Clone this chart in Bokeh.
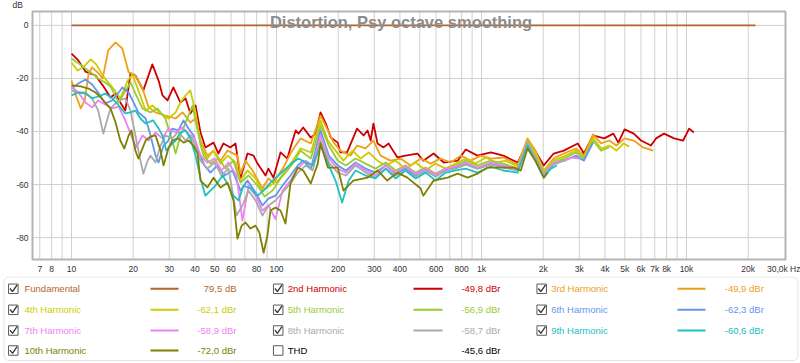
from bokeh.plotting import figure
from bokeh.models import Range1d, FixedTicker, ColumnDataSource, BoxAnnotation
from bokeh.layouts import column
from bokeh.embed import file_html
from bokeh.resources import INLINE
from bokeh.core.properties import value

FONT = "Liberation Sans"

# ---------------- data ----------------
fund_freq = [10, 21700]
fund_db = [0.0, 0.0]

h2_freq = [10.0, 10.8, 11.7, 13.1, 14.2, 15.5, 16.4, 17.3, 18.3, 19.4, 20.5, 22.4, 24.8, 26.6, 27.8, 29.4, 31.4, 34.0, 36.0, 38.0,
           40.3, 42.6, 45.0, 49.3, 52.1, 55.1, 59.6, 63.1, 66.7, 72.2, 77.3, 80.8, 88.4, 91.3, 96.6, 104.6, 113, 117, 124, 128,
           135, 147, 155, 164, 174, 184, 199, 205, 221, 247, 266, 278, 288, 297, 311, 333, 352, 389, 426, 487,
           520, 584, 655, 765, 838, 955, 1110, 1277, 1500, 1677, 1798, 2012, 2250, 2520, 2950, 3160, 3500, 3970, 4400, 4650,
           4990, 5530, 6000, 6710, 7100, 7770, 8700, 9630, 10300, 10860]
h2_db = [-10.6, -13.2, -17.4, -18.9, -22.6, -27.2, -25.7, -29.1, -32.1, -18.1, -18.9, -24.5, -14.7, -20.8, -26.4, -28.3, -23.4, -29.1, -27.5, -33.2,
         -30.2, -40.4, -46.0, -44.2, -48.3, -44.5, -46.0, -44.5, -57.7, -48.3, -49.1, -52.1, -56.6, -54.0, -57.4, -47.9, -50.2, -46.0, -39.6, -40.8,
         -38.5, -42.3, -40.8, -32.8, -37.0, -42.3, -44.2, -47.9, -47.9, -38.9, -41.5, -39.6, -43.4, -37.0, -44.5, -46.0, -44.5, -49.8, -49.1, -48.3,
         -51.0, -48.3, -51.7, -51.0, -46.8, -49.1, -47.9, -49.1, -51.7, -44.2, -46.4, -52.8, -48.3, -47.2, -44.5, -48.3, -41.5, -42.6, -40.8, -44.2,
         -39.2, -40.8, -43.4, -45.3, -42.6, -40.8, -42.6, -43.4, -38.9, -40.4]

h3_freq = [10.0, 10.5, 11.1, 11.6, 12.1, 12.6, 13.4, 14.2, 15.1, 16.4, 17.7, 19.0, 20.3, 22.2, 23.8, 25.7, 28.7, 32.2, 34.8, 38.0,
           40.3, 42.6, 46.0, 49.3, 53.3, 57.7, 64.5, 66.7, 70.6, 76.4, 85.4, 91.3, 96.6, 108, 117, 124, 131, 147, 164, 178,
           190, 205, 230, 247, 272, 297, 322, 360, 403, 451, 505, 565, 632, 708, 792, 886, 992, 1110, 1277, 1500,
           1677, 1830, 2012, 2250, 2520, 2890, 3160, 3500, 3830, 4200, 4550, 4990, 5530, 6140, 6890]
h3_db = [-20.8, -26.4, -31.3, -28.3, -18.5, -15.8, -17.7, -20.0, -9.4, -6.4, -8.7, -17.7, -18.5, -23.8, -30.9, -32.8, -34.0, -35.1, -32.8, -36.6,
         -35.1, -43.4, -49.1, -47.2, -51.0, -47.2, -49.1, -55.9, -51.0, -54.7, -61.5, -57.7, -59.3, -53.6, -48.3, -45.3, -42.6, -44.5, -34.0, -39.6,
         -44.2, -47.2, -49.1, -45.3, -46.4, -43.4, -49.1, -51.0, -50.2, -52.8, -50.2, -52.1, -50.2, -51.7, -49.1, -51.0, -49.1, -50.2, -49.8, -52.5,
         -42.6, -47.2, -54.7, -50.2, -48.3, -46.4, -49.1, -41.1, -44.5, -43.4, -45.3, -42.6, -43.4, -46.0, -47.2]

h4_freq = [10.0, 10.7, 11.4, 12.4, 13.2, 14.2, 15.1, 16.0, 17.3, 18.8, 19.8, 21.2, 23.0, 24.8, 27.2, 29.7, 32.2, 34.0, 36.0, 38.0,
           40.3, 42.6, 46.0, 49.3, 53.3, 57.7, 63.1, 66.7, 72.2, 79.0, 85.4, 93.4, 102, 111, 120, 131, 147, 164, 178, 194,
           212, 235, 257, 282, 311, 341, 381, 426, 477, 534, 597, 668, 748, 838, 937, 1050, 1175, 1314, 1500, 1677,
           1830, 2012, 2250, 2520, 2890, 3160, 3500, 3830, 4200, 4550, 4940, 5250]
h4_db = [-14.0, -17.0, -15.8, -12.8, -14.7, -18.9, -21.5, -23.8, -27.5, -20.8, -18.5, -24.5, -32.1, -30.2, -33.2, -35.1, -32.8, -29.1, -26.4, -24.5,
         -32.8, -45.3, -50.2, -47.2, -52.1, -49.1, -51.7, -58.5, -54.7, -57.7, -62.3, -60.4, -58.5, -54.7, -51.0, -46.4, -47.9, -35.8, -43.4, -47.2,
         -51.0, -47.2, -50.2, -47.9, -51.0, -52.8, -51.0, -54.0, -51.7, -54.7, -52.1, -54.0, -52.1, -50.2, -52.1, -49.8, -51.7, -51.0, -53.2, -43.4,
         -47.9, -54.7, -51.0, -49.4, -47.2, -49.8, -42.3, -46.4, -45.3, -47.2, -44.5, -45.7]

h5_freq = [10.0, 10.8, 11.7, 12.6, 13.5, 14.6, 15.5, 17.0, 18.1, 19.4, 20.7, 22.2, 24.3, 26.2, 28.7, 31.0, 32.2, 34.0, 36.4, 38.9,
           41.2, 44.0, 47.6, 52.1, 56.4, 61.7, 66.7, 73.1, 80.8, 87.4, 95.5, 104.6, 113, 121, 131, 147, 164, 180, 199, 218,
           243, 272, 304, 341, 381, 426, 477, 534, 597, 668, 748, 838, 955, 1110, 1277, 1500, 1677, 1830, 2012, 2250,
           2520, 2890, 3160, 3500, 3830, 4200]
h5_db = [-12.5, -14.3, -16.2, -18.1, -20.0, -21.5, -23.0, -29.1, -25.3, -21.5, -26.4, -31.3, -32.8, -31.3, -35.1, -43.4, -48.3, -41.5, -35.8, -30.2,
         -39.6, -49.1, -52.1, -50.2, -54.0, -51.0, -59.3, -56.6, -60.4, -64.5, -62.3, -57.7, -54.7, -51.7, -47.2, -50.2, -37.7, -45.3, -51.0, -52.8,
         -50.2, -52.1, -54.0, -51.7, -54.7, -52.8, -55.5, -53.6, -55.9, -54.0, -52.8, -51.0, -52.8, -51.0, -52.1, -54.0, -43.8, -49.1, -55.5, -51.7,
         -50.2, -47.9, -50.2, -43.4, -47.2, -46.0]

h6_freq = [10.0, 10.8, 11.7, 12.6, 13.5, 14.6, 15.8, 17.0, 17.7, 19.0, 20.1, 21.2, 23.0, 24.3, 25.7, 26.6, 28.1, 29.7, 31.0, 33.2,
           35.2, 37.2, 39.4, 41.6, 44.5, 47.6, 51.5, 55.8, 61.0, 66.7, 72.2, 79.0, 85.4, 91.3, 98.9, 107, 117, 127, 135, 147,
           164, 180, 199, 218, 243, 272, 304, 341, 381, 426, 477, 534, 597, 668, 748, 838, 955, 1110, 1277, 1500,
           1677, 1830, 2012, 2250, 2520, 2890, 3160, 3500]
h6_db = [-23.8, -21.9, -20.4, -22.3, -25.3, -29.4, -28.3, -25.3, -23.4, -25.3, -29.1, -32.8, -35.1, -41.5, -49.1, -51.7, -45.3, -43.4, -38.9, -39.6,
         -35.8, -38.9, -41.5, -47.2, -52.8, -55.5, -52.8, -56.6, -54.7, -62.3, -58.5, -63.0, -67.9, -65.3, -64.2, -60.4, -56.6, -52.8, -51.0, -54.0,
         -39.6, -49.1, -52.8, -54.7, -51.7, -54.0, -55.5, -52.8, -55.9, -54.0, -56.6, -54.7, -57.0, -54.7, -53.6, -52.1, -54.0, -52.1, -53.2, -54.7,
         -44.5, -50.2, -56.2, -52.1, -51.0, -49.1, -51.0, -44.2]

h7_freq = [10.0, 10.8, 11.7, 12.6, 13.5, 14.6, 15.8, 17.0, 18.3, 19.8, 20.7, 22.2, 23.8, 25.7, 27.8, 29.7, 32.2, 34.8, 37.2, 39.8,
           42.6, 46.0, 49.9, 53.9, 58.3, 63.8, 68.2, 73.1, 79.0, 85.4, 91.3, 98.9, 107, 117, 127, 139, 150, 164, 180, 199,
           218, 243, 272, 304, 341, 381, 426, 477, 534, 597, 668, 748, 838, 955, 1110, 1277, 1500, 1677, 1830, 2012,
           2250, 2520, 2780, 3000]
h7_db = [-23.0, -25.3, -29.1, -30.9, -28.3, -29.8, -31.3, -30.6, -35.8, -42.6, -46.0, -41.5, -43.4, -40.4, -42.6, -38.9, -40.4, -38.5, -40.8, -42.6,
         -49.1, -51.7, -50.2, -54.7, -51.7, -56.6, -73.6, -60.4, -64.2, -69.8, -67.9, -73.0, -62.3, -58.5, -54.0, -51.0, -52.8, -41.5, -50.2, -54.0,
         -55.5, -52.1, -54.7, -56.6, -52.8, -55.5, -53.2, -55.9, -54.0, -56.2, -54.0, -53.2, -51.7, -53.6, -51.7, -52.8, -54.0, -44.2, -49.8, -55.9,
         -51.7, -51.0, -49.8, -50.2]

h8_freq = [10.0, 10.8, 11.7, 12.6, 13.5, 14.0, 14.3, 14.8, 15.5, 17.0, 18.3, 19.4, 20.5, 21.7, 22.4, 23.5, 24.3, 25.7, 27.2, 28.7,
           31.0, 33.2, 36.0, 38.0, 40.3, 42.6, 46.0, 49.9, 53.9, 58.3, 63.8, 68.2, 73.1, 79.0, 85.4, 91.3, 98.9, 107, 117, 127,
           139, 150, 164, 180, 199, 218, 243, 272, 304, 341, 381, 426, 477, 534, 597, 668, 748, 838, 955, 1110,
           1277, 1500, 1677, 1830, 2012, 2250, 2520, 2600]
h8_db = [-24.5, -25.3, -25.3, -27.5, -32.1, -37.7, -40.8, -36.6, -31.3, -28.3, -27.5, -32.1, -41.5, -51.0, -55.9, -51.0, -49.1, -51.7, -45.3, -41.5,
         -42.6, -40.1, -43.4, -41.5, -45.3, -51.0, -54.0, -51.7, -56.6, -54.0, -71.7, -67.9, -62.3, -66.0, -71.7, -67.9, -66.0, -63.0, -59.6, -55.5,
         -52.8, -54.7, -43.4, -51.7, -55.5, -56.6, -52.8, -55.5, -57.4, -54.0, -56.6, -54.7, -57.0, -54.7, -57.0, -54.7, -54.0, -52.5, -54.0, -52.5,
         -53.6, -54.7, -44.5, -50.2, -56.2, -52.5, -51.0, -51.0]

h9_freq = [10.0, 10.8, 11.7, 12.6, 13.5, 14.6, 15.8, 17.0, 18.3, 19.4, 20.5, 21.7, 23.0, 25.0, 26.6, 27.8, 29.0, 30.4, 32.2, 34.0,
           36.0, 38.0, 40.3, 42.6, 45.0, 47.6, 50.4, 54.6, 58.3, 61.7, 65.3, 69.0, 74.6, 80.8, 86.5, 93.4, 102, 111, 120, 128,
           139, 150, 164, 180, 194, 209, 225, 243, 272, 304, 341, 381, 426, 477, 534, 597, 668, 748, 838, 955,
           1110, 1277, 1500, 1677, 1830, 2012, 2180, 2330]
h9_db = [-26.4, -25.3, -25.7, -27.5, -26.8, -25.7, -27.5, -30.2, -33.2, -32.8, -32.1, -35.1, -37.0, -35.8, -38.9, -41.5, -47.2, -45.3, -43.4, -40.4,
         -39.6, -42.6, -49.1, -57.7, -64.2, -62.3, -60.4, -56.6, -60.4, -64.2, -66.0, -60.4, -61.5, -64.2, -62.3, -59.3, -56.6, -54.0, -51.7, -50.2,
         -51.7, -52.8, -45.3, -52.8, -58.5, -66.8, -58.5, -54.7, -56.6, -57.7, -54.0, -57.7, -54.7, -57.7, -55.5, -58.5, -55.5, -54.7, -54.0, -55.5,
         -53.2, -54.7, -55.5, -45.3, -51.0, -57.4, -54.0, -52.8]

h10_freq = [10.0, 11.1, 12.1, 13.1, 13.9, 14.6, 15.5, 16.4, 17.3, 18.1, 19.0, 19.6, 20.5, 21.2, 23.0, 24.3, 25.7, 27.2, 28.1, 29.7,
            31.0, 33.2, 35.2, 37.2, 39.4, 41.2, 42.6, 46.0, 49.3, 53.3, 57.7, 61.7, 64.5, 67.6, 70.6, 74.6, 79.0, 82.5, 86.5, 90.3,
            93.4, 98.9, 104.6, 110.6, 117, 127, 135, 147, 159, 164, 178, 199, 212, 237, 278, 311, 347, 389, 435, 505,
            520, 584, 683, 765, 856, 955, 1070, 1242, 1440, 1555, 1677, 1830, 2012, 2100]
h10_db = [-22.6, -23.0, -23.8, -25.3, -27.2, -29.1, -31.3, -36.6, -43.4, -46.4, -41.5, -39.6, -47.2, -50.2, -43.4, -41.9, -41.5, -47.2, -52.8, -46.4,
          -43.4, -42.6, -44.2, -43.4, -45.3, -48.3, -58.5, -61.1, -57.4, -61.1, -59.3, -66.0, -80.4, -75.5, -74.3, -76.6, -75.5, -78.1, -85.7, -79.3,
          -69.8, -68.7, -69.8, -74.7, -59.6, -53.6, -54.7, -59.6, -52.1, -44.5, -53.6, -53.6, -62.3, -58.5, -57.4, -54.7, -58.5, -55.5, -57.4, -61.5,
          -64.2, -58.5, -57.4, -55.9, -57.4, -55.9, -53.6, -53.6, -53.6, -54.7, -46.4, -51.0, -57.4, -55.5]

legend_names = ["Fundamental", "2nd Harmonic", "3rd Harmonic", "4th Harmonic", "5th Harmonic", "6th Harmonic",
                "7th Harmonic", "8th Harmonic", "9th Harmonic", "10th Harmonic", "THD"]
legend_values = ["79,5 dB", "-49,8 dBr", "-49,9 dBr", "-62,1 dBr", "-56,9 dBr", "-62,3 dBr",
                 "-58,9 dBr", "-58,7 dBr", "-60,6 dBr", "-72,0 dBr", "-45,6 dBr"]
legend_checked = [True, True, True, True, True, True, True, True, True, True, False]
colors = ["#b5652b", "#cc0000", "#f0a018", "#cccc00", "#99cc33", "#6495ed",
          "#ee82ee", "#a9a9a9", "#20c0c0", "#808000", "#000000"]

xtick_values = [7, 8, 10, 20, 30, 40, 50, 60, 80, 100, 200, 300, 400, 600, 800,
                1000, 2000, 3000, 4000, 5000, 6000, 7000, 8000, 10000, 20000, 30000]
xtick_labels = ["7", "8", "10", "20", "30", "40", "50", "60", "80", "100", "200", "300", "400", "600", "800",
                "1k", "2k", "3k", "4k", "5k", "6k", "7k", "8k", "10k", "20k", "30,0k Hz"]
xgrid_values = [7, 8, 9, 10, 20, 30, 40, 50, 60, 70, 80, 90, 100, 200, 300, 400, 500, 600, 700, 800, 900,
                1000, 2000, 3000, 4000, 5000, 6000, 7000, 8000, 9000, 10000, 20000]
ytick_values = [0, -20, -40, -60, -80]
ytick_labels = ["0", "-20", "-40", "-60", "-80"]
y_unit_label = "dB"
title_text = "Distortion, Psy octave smoothing"

curve_freqs = [fund_freq, h2_freq, h3_freq, h4_freq, h5_freq, h6_freq, h7_freq, h8_freq, h9_freq, h10_freq]
curve_dbs = [fund_db, h2_db, h3_db, h4_db, h5_db, h6_db, h7_db, h8_db, h9_db, h10_db]

# ---------------- layout helpers (pixel position -> data coordinate) ----------------
W = 800
PH = 276          # plot canvas height (frame 0..262, x-axis panel below)
FRAME_H = 262
X10_PX, DEC_PX = 71.0, 205.0     # 10 Hz sits at x=71 px, one decade spans 205 px
Y0_PX, PX_PER_DB = 25.0, 2.6625  # 0 dB at y=25 px


def fx(px):
    return 10 ** (1 + (px - X10_PX) / DEC_PX)


def fy(py):
    return -(py - Y0_PX) / PX_PER_DB


AREA_L, AREA_R, AREA_T, AREA_B = 32, 785, 11, 260

# ---------------- main plot ----------------
p = figure(width=W, height=PH, x_axis_type="log",
           x_range=Range1d(fx(0), fx(W)), y_range=Range1d(fy(FRAME_H), fy(0)),
           output_backend="svg", toolbar_location=None, y_axis_location=None,
           min_border_left=0, min_border_right=0, min_border_top=0, min_border_bottom=PH - FRAME_H)
p.title.visible = False
p.grid.visible = False
p.outline_line_color = None
p.background_fill_color = "white"
p.border_fill_color = "white"

p.xaxis.ticker = FixedTicker(ticks=xtick_values)
p.xaxis.major_label_overrides = {v: l for v, l in zip(xtick_values, xtick_labels)}
p.xaxis.axis_line_color = None
p.xaxis.major_tick_line_color = None
p.xaxis.minor_tick_line_color = None
p.xaxis.major_tick_out = 0
p.xaxis.major_tick_in = 0
p.xaxis.major_label_standoff = 2
p.xaxis.major_label_text_font = FONT
p.xaxis.major_label_text_font_size = "8.5px"
p.xaxis.major_label_text_color = "#333333"

grid_col = "#d0d0d0"
p.segment(x0=xgrid_values, x1=xgrid_values, y0=[fy(AREA_B)] * len(xgrid_values), y1=[fy(AREA_T)] * len(xgrid_values),
          line_color=grid_col, line_width=1)
p.segment(x0=[fx(AREA_L)] * len(ytick_values), x1=[fx(AREA_R)] * len(ytick_values), y0=ytick_values, y1=ytick_values,
          line_color=grid_col, line_width=1)

for fr, db, col in zip(curve_freqs, curve_dbs, colors[:10]):
    p.line(fr, db, line_color=col, line_width=1.8, line_join="round")

p.quad(left=[fx(AREA_L)], right=[fx(AREA_R)], bottom=[fy(AREA_B)], top=[fy(AREA_T)],
       fill_color=None, line_color="#b4b4b4", line_width=2)

p.text(x=[fx(28)] * len(ytick_values), y=ytick_values, text=ytick_labels,
       text_font=value(FONT), text_font_size="8.5px", text_color="#333333",
       text_align="right", text_baseline="middle")
p.text(x=[fx(12)], y=[fy(5)], text=[y_unit_label],
       text_font=value(FONT), text_font_size="8.5px", text_color="#333333",
       text_align="left", text_baseline="middle")
p.text(x=[fx(400.5)], y=[fy(22)], text=[title_text],
       text_font=value(FONT), text_font_size="16.5px", text_font_style="bold", text_color="#8c8c8c",
       text_align="center", text_baseline="middle")

# ---------------- legend panel ----------------
LH = 363 - PH
lg = figure(width=W, height=LH, x_range=Range1d(0, W), y_range=Range1d(0, LH),
            output_backend="svg", toolbar_location=None,
            x_axis_location=None, y_axis_location=None,
            min_border_left=0, min_border_right=0, min_border_top=0, min_border_bottom=0)
lg.grid.visible = False
lg.outline_line_color = None
lg.title.visible = False
lg.background_fill_color = "white"
lg.border_fill_color = "white"


def ly(py_from_top):
    return LH - py_from_top


lg.add_layout(BoxAnnotation(left=3.5, right=W - 2.5, top=ly(0.5), bottom=ly(84.0),
                            fill_color="white", fill_alpha=0.0, line_color="#a0a0a0",
                            line_width=1, border_radius=5))

row_y = [12.3, 33.3, 54.0, 74.0]
cb_x = [12.8, 277.7, 541.2]
lab_x = [24.0, 287.3, 550.7]
seg_x0 = [150.0, 413.0, 677.0]
seg_x1 = [178.0, 442.0, 705.0]
val_x = [236.0, 500.0, 763.3]

n = len(legend_names)
rows = [i // 3 for i in range(n)]
cols = [i % 3 for i in range(n)]
ys = [ly(row_y[r]) for r in rows]

lg.rect(x=[cb_x[c] for c in cols], y=ys, width=9.5, height=9.5,
        fill_color="white", line_color="#5a5a5a", line_width=1)

chk = [i for i in range(n) if legend_checked[i]]
lg.multi_line(xs=[[cb_x[cols[i]] - 3.3, cb_x[cols[i]] - 0.8, cb_x[cols[i]] + 3.8] for i in chk],
              ys=[[ys[i] + 0.3, ys[i] - 2.8, ys[i] + 4.0] for i in chk],
              line_color="#333333", line_width=1.3)

lab_src = ColumnDataSource(dict(x=[lab_x[c] for c in cols], y=ys, t=legend_names, c=colors))
lg.text(x="x", y="y", text="t", text_color="c", source=lab_src,
        text_font=value(FONT), text_font_size="9.5px", text_baseline="middle", text_align="left")

val_src = ColumnDataSource(dict(x=[val_x[c] for c in cols], y=ys, t=legend_values, c=colors))
lg.text(x="x", y="y", text="t", text_color="c", source=val_src,
        text_font=value(FONT), text_font_size="9.5px", text_baseline="middle", text_align="right")

sel = [i for i in range(n) if legend_checked[i]]
lg.segment(x0=[seg_x0[cols[i]] for i in sel], y0=[ys[i] for i in sel],
           x1=[seg_x1[cols[i]] for i in sel], y1=[ys[i] for i in sel],
           line_color=[colors[i] for i in sel], line_width=2)

layout = column(p, lg, spacing=0)
open("out.html", "w").write(file_html(layout, INLINE))
